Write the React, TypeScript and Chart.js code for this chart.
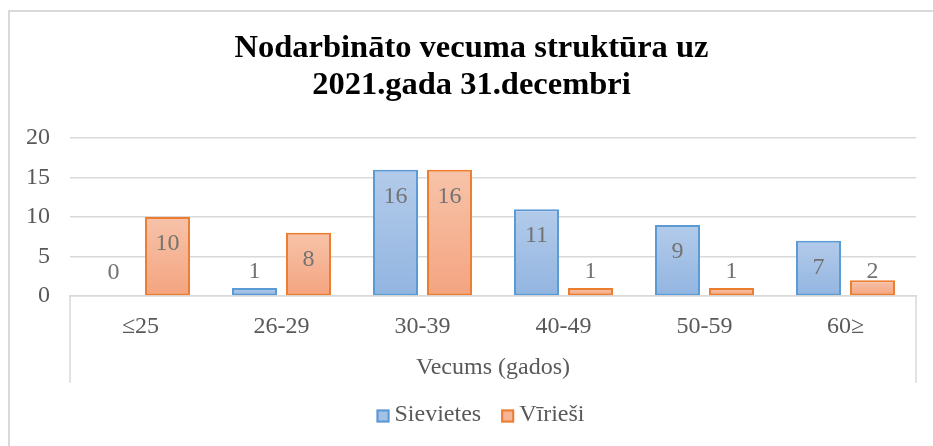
import React, { useEffect, useRef } from 'react';
import { Chart, registerables } from 'chart.js';

Chart.register(...registerables);

const categories = ['≤25', '26-29', '30-39', '40-49', '50-59', '60≥'];
const women = [0, 1, 16, 11, 9, 7];
const men = [10, 8, 16, 1, 1, 2];
const seriesNames = ['Sievietes', 'Vīrieši'];
const titleLines = ['Nodarbināto vecuma struktūra uz', '2021.gada 31.decembri'];
const axisTitle = 'Vecums (gados)';
const yTicks = [0, 5, 10, 15, 20];

const FONT = '"Liberation Serif", "Times New Roman", serif';
const TEXT_GRAY = '#595959';
const LABEL_GRAY = '#737373';
const GRID = '#d9d9d9';

const BLUE = { top: '#b3cbea', bottom: '#92b5e1', border: '#5b9bd5' };
const ORANGE = { top: '#f7c3a9', bottom: '#f4a480', border: '#ed7d31' };

function barGradient(top: string, bottom: string) {
  return (ctx: any) => {
    const chart = ctx.chart;
    if (ctx.type !== 'data' || !chart.chartArea || !chart.scales || !chart.scales.y) return bottom;
    const ys = chart.scales.y;
    const yTop = ys.getPixelForValue(ctx.raw);
    const yBase = ys.getPixelForValue(0);
    if (!isFinite(yTop) || !isFinite(yBase) || yBase - yTop < 1) return bottom;
    const g = chart.ctx.createLinearGradient(0, yTop, 0, yBase);
    g.addColorStop(0, top);
    g.addColorStop(1, bottom);
    return g;
  };
}

const valueLabels = {
  id: 'valueLabels',
  afterDatasetsDraw(chart: any) {
    const ctx = chart.ctx;
    ctx.save();
    ctx.font = `24px ${FONT}`;
    ctx.fillStyle = LABEL_GRAY;
    ctx.textAlign = 'center';
    ctx.textBaseline = 'middle';
    chart.data.datasets.forEach((ds: any, i: number) => {
      const meta = chart.getDatasetMeta(i);
      meta.data.forEach((el: any, j: number) => {
        const v = ds.data[j];
        const y = Math.min(el.y + 27, el.base - 23.5);
        ctx.fillText(String(v), el.x, y);
      });
    });
    ctx.restore();
  },
};

const axisBox = {
  id: 'axisBox',
  afterDraw(chart: any) {
    const x = chart.scales.x;
    const ctx = chart.ctx;
    ctx.save();
    ctx.strokeStyle = GRID;
    ctx.lineWidth = 1.5;
    ctx.beginPath();
    [x.left, x.right].forEach((px: number) => {
      ctx.moveTo(px, x.top);
      ctx.lineTo(px, x.bottom + 1);
    });
    ctx.stroke();
    ctx.restore();
  },
};

const customLegend = {
  id: 'customLegend',
  afterDraw(chart: any) {
    const ctx = chart.ctx;
    const x = chart.scales.x;
    ctx.save();
    ctx.font = `24px ${FONT}`;
    const box = 13;
    const gapText = 5;
    const gapItem = 20;
    const items = chart.data.datasets.map((ds: any) => ({
      label: ds.label,
      w: ctx.measureText(ds.label).width,
      fill: ds.legendFill,
      stroke: ds.borderColor,
    }));
    const total =
      items.reduce((s: number, it: any) => s + box + gapText + it.w, 0) + gapItem * (items.length - 1);
    let cx = (x.left + x.right) / 2 - 12.5 - total / 2;
    const cy = x.bottom + 34;
    items.forEach((it: any) => {
      ctx.fillStyle = it.fill;
      ctx.fillRect(cx, cy - box / 2, box, box);
      ctx.strokeStyle = it.stroke;
      ctx.lineWidth = 2;
      ctx.strokeRect(cx + 1, cy - box / 2 + 1, box - 2, box - 2);
      ctx.fillStyle = TEXT_GRAY;
      ctx.textAlign = 'left';
      ctx.textBaseline = 'middle';
      ctx.fillText(it.label, cx + box + gapText, cy - 1);
      cx += box + gapText + it.w + gapItem;
    });
    ctx.restore();
  },
};

export default function App() {
  const ref = useRef<HTMLCanvasElement | null>(null);

  useEffect(() => {
    if (!ref.current) return;
    const chart = new Chart(ref.current, {
      type: 'bar',
      data: {
        labels: categories,
        datasets: [
          {
            label: seriesNames[0],
            data: women,
            backgroundColor: barGradient(BLUE.top, BLUE.bottom),
            borderColor: BLUE.border,
            borderWidth: (c: any) => (c.raw === 0 ? 0 : 2),
            borderSkipped: false,
            categoryPercentage: 0.766,
            barPercentage: 0.833,
            legendFill: '#a3c0e6',
          } as any,
          {
            label: seriesNames[1],
            data: men,
            backgroundColor: barGradient(ORANGE.top, ORANGE.bottom),
            borderColor: ORANGE.border,
            borderWidth: (c: any) => (c.raw === 0 ? 0 : 2),
            borderSkipped: false,
            categoryPercentage: 0.766,
            barPercentage: 0.833,
            legendFill: '#f6b596',
          } as any,
        ],
      },
      options: {
        responsive: false,
        animation: false,
        layout: { padding: { left: 10, right: 0, top: 0, bottom: 64 } },
        plugins: {
          legend: { display: false },
          tooltip: { enabled: false },
          title: {
            display: true,
            text: titleLines,
            color: '#000000',
            font: { family: FONT, size: 32.5, weight: 'bold', lineHeight: 1.11 },
            padding: { top: 31, bottom: 35 },
          },
        },
        scales: {
          x: {
            grid: { display: false, drawTicks: false },
            border: { display: true, color: GRID, width: 1.5 },
            ticks: {
              color: TEXT_GRAY,
              font: { family: FONT, size: 24 },
              padding: 16,
              maxRotation: 0,
              autoSkip: false,
            },
            title: {
              display: true,
              text: axisTitle,
              color: TEXT_GRAY,
              font: { family: FONT, size: 24 },
              padding: 0,
            },
            afterFit: (s: any) => {
              s.height = 86;
            },
          },
          y: {
            min: 0,
            max: 20,
            afterBuildTicks: (s: any) => {
              s.ticks = yTicks.map((v) => ({ value: v }));
            },
            ticks: {
              color: TEXT_GRAY,
              font: { family: FONT, size: 24 },
              padding: 20,
            },
            grid: { color: GRID, lineWidth: 1.5, drawTicks: false },
            border: { display: false },
            afterFit: (s: any) => {
              s.width = 60;
            },
          },
          y2: {
            type: 'linear',
            position: 'right',
            display: true,
            grid: { display: false, drawTicks: false },
            ticks: { display: false },
            border: { display: false },
            afterFit: (s: any) => {
              s.width = 17;
            },
          },
        },
      } as any,
      plugins: [valueLabels, axisBox, customLegend],
    });
    return () => chart.destroy();
  }, []);

  return (
    <div style={{ position: 'fixed', left: 0, top: 0, width: 933, height: 446, background: '#ffffff' }}>
      <div
        style={{
          position: 'absolute',
          left: 8,
          top: 10,
          right: 0,
          bottom: 0,
          borderTop: `2px solid ${GRID}`,
          borderLeft: `2px solid ${GRID}`,
        }}
      />
      <canvas ref={ref} width={933} height={446} style={{ position: 'absolute', left: 0, top: 0 }} />
    </div>
  );
}
